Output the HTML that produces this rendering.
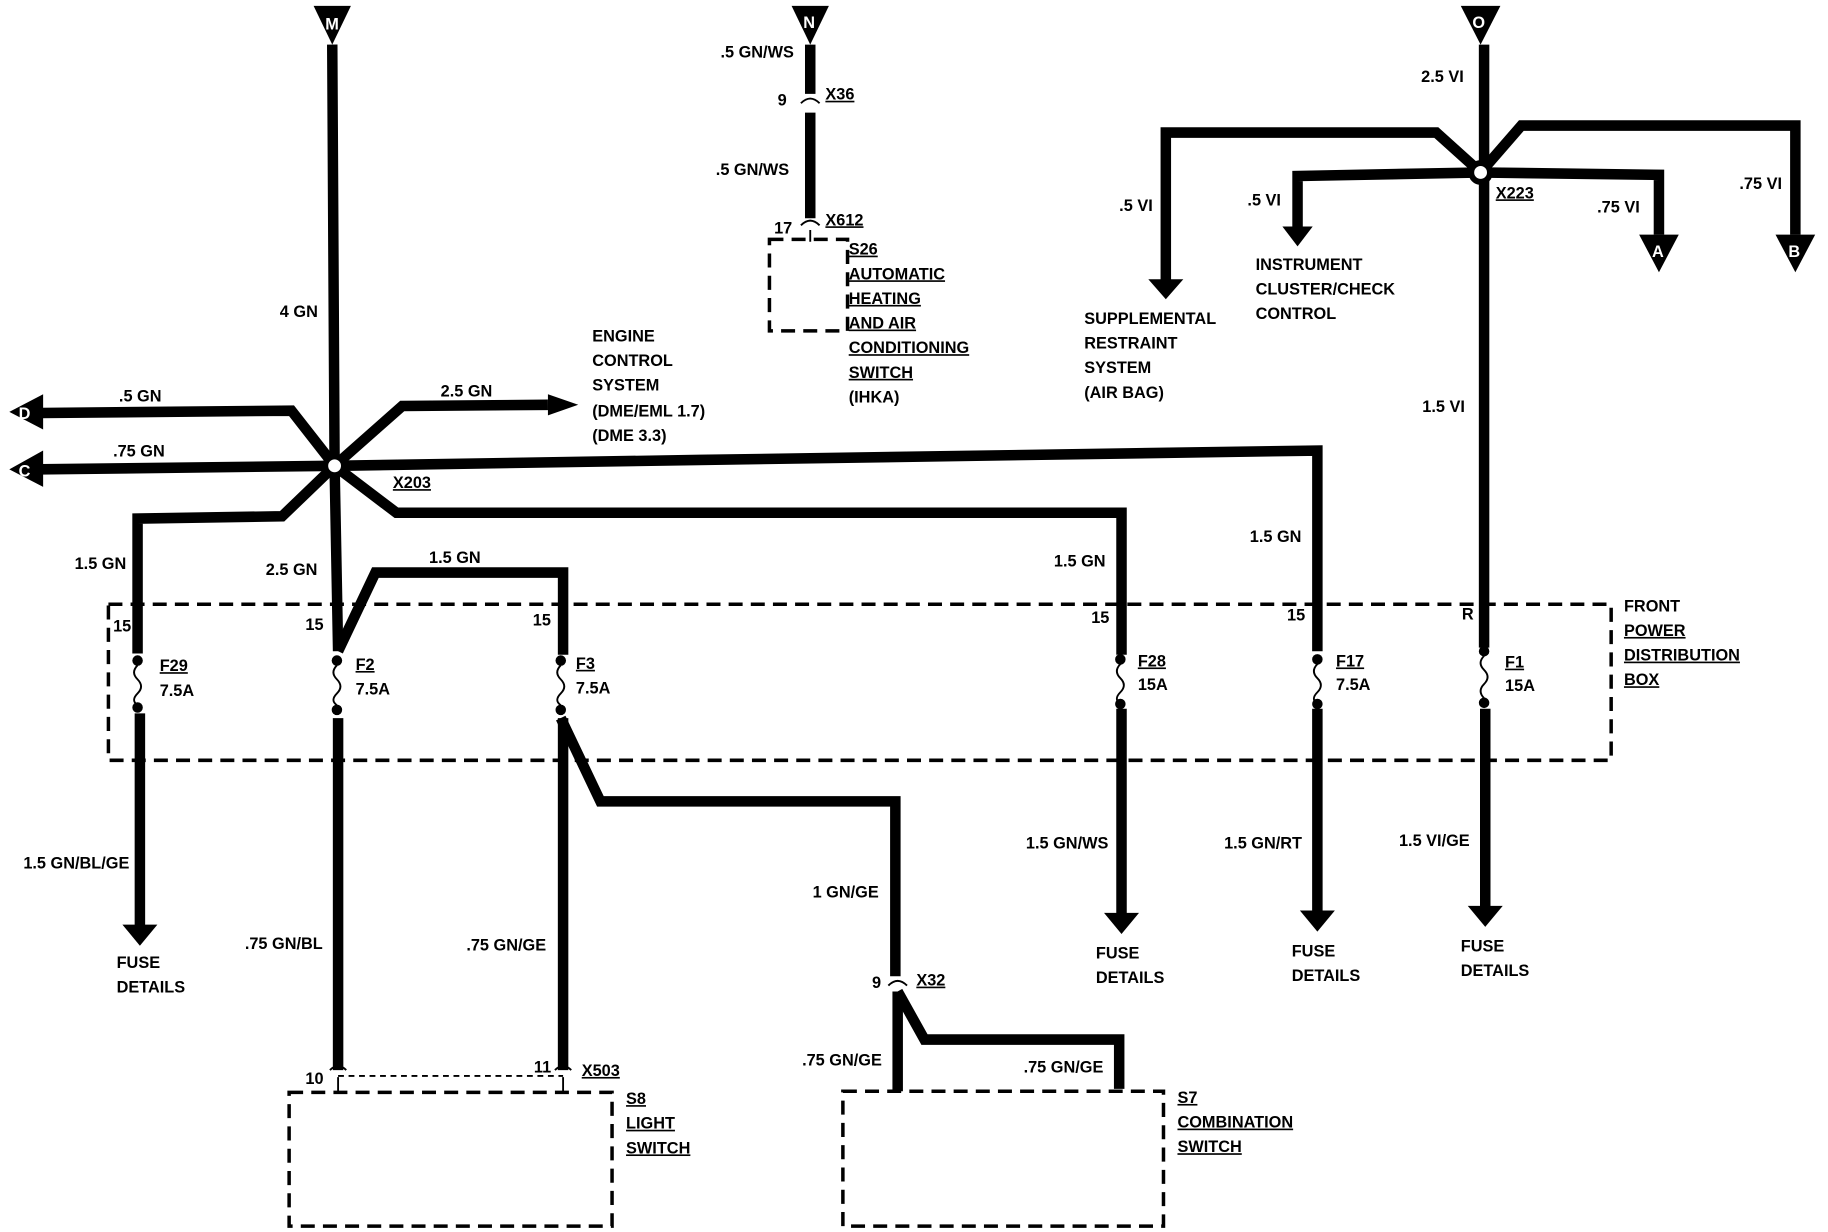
<!DOCTYPE html>
<html><head><meta charset="utf-8"><style>
html,body{margin:0;padding:0;background:#fff;}
svg{display:block;}
text{font-family:"Liberation Sans Narrow","Liberation Sans",sans-serif;font-weight:bold;font-size:14px;fill:#000;}
.w{fill:none;stroke:#000;stroke-width:9;stroke-linejoin:miter;}
.d{fill:none;stroke:#000;stroke-width:3;stroke-dasharray:12,7;}
.s{fill:none;stroke:#000;stroke-width:1.6;}
.u{text-decoration:underline;}
</style></head><body>
<svg width="1828" height="1232" viewBox="0 0 1568 1050" preserveAspectRatio="none" xmlns="http://www.w3.org/2000/svg">
<!-- top triangles -->
<polygon points="269,5 301,5 285,38"/><text x="279" y="25" style="fill:#fff">M</text>
<polygon points="679,5 711,5 695,38"/><text x="689" y="24" style="fill:#fff">N</text>
<polygon points="1253,5 1287,5 1270,38"/><text x="1263" y="24" style="fill:#fff">O</text>

<!-- X203 hub wires -->
<path class="w" d="M285,38 L287,397 L290,555"/>
<path class="w" d="M287,397 L250,350 L35,352"/>
<path class="w" d="M287,397 L35,400"/>
<path class="w" d="M287,397 L345,346 L470,345"/>
<path class="w" d="M287,397 L600,392 L1130,384 L1130,555"/>
<path class="w" d="M287,397 L340,437 L962,437 L962,558"/>
<path class="w" d="M287,397 L242,440 L118,442 L118,557"/>
<path class="w" d="M290,555 L322,488 L483,488 L483,558"/>
<polygon points="37,336 37,366 8,351"/><text x="16" y="357" style="fill:#fff">D</text>
<polygon points="37,384 37,415 8,400"/><text x="16" y="406" style="fill:#fff">C</text>
<polygon points="470,336 470,354 496,345"/>
<circle cx="287" cy="397" r="8" fill="#fff" stroke="#000" stroke-width="5"/>

<!-- power distribution box -->
<rect class="d" x="93" y="515" width="1289" height="133"/>

<!-- fuses -->
<g id="fuses">
<circle cx="118" cy="563" r="4.5"/><path class="s" d="M118,567 q-6,6 0,12 q6,6 0,12 q-6,6 0,10"/><circle cx="118" cy="603" r="4.5"/>
<circle cx="289" cy="563" r="4.5"/><path class="s" d="M289,567 q-6,6 0,12 q6,6 0,12 q-6,6 0,10"/><circle cx="289" cy="605" r="4.5"/>
<circle cx="481" cy="563" r="4.5"/><path class="s" d="M481,567 q-6,6 0,12 q6,6 0,12 q-6,6 0,10"/><circle cx="481" cy="605" r="4.5"/>
<circle cx="961" cy="562" r="4.5"/><path class="s" d="M961,566 q-6,6 0,12 q6,6 0,12 q-6,6 0,10"/><circle cx="961" cy="600" r="4.5"/>
<circle cx="1130" cy="562" r="4.5"/><path class="s" d="M1130,566 q-6,6 0,12 q6,6 0,12 q-6,6 0,10"/><circle cx="1130" cy="600" r="4.5"/>
<circle cx="1273" cy="555" r="4.5"/><path class="s" d="M1273,559 q-6,6 0,12 q6,6 0,12 q-6,6 0,12"/><circle cx="1273" cy="599" r="4.5"/>
</g>

<!-- lower wires -->
<path class="w" d="M120,608 L120,790"/><polygon points="105,788 135,788 120,806"/>
<path class="w" d="M290,612 L290,912"/>
<path class="w" d="M483,612 L483,912"/>
<path class="w" d="M481,612 L515,683 L768,683 L768,832"/>
<path class="w" d="M770,845 L793,886 L960,886 L960,928"/>
<path class="w" d="M770,845 L770,930"/>
<path class="w" d="M962,604 L962,780"/><polygon points="947,778 977,778 962,796"/>
<path class="w" d="M1130,604 L1130,778"/><polygon points="1115,776 1145,776 1130,794"/>
<path class="w" d="M1273,38 L1273,552"/>
<path class="w" d="M1274,604 L1274,774"/><polygon points="1259,772 1289,772 1274,790"/>

<!-- connectors bottom -->
<path class="s" stroke-width="2" d="M283,912 q7,-7 14,0 M476,912 q7,-7 14,0 M762,840 q8,-8 16,0 M687,88 q8,-8 16,0 M687,192 q8,-8 16,0"/>
<path class="s" stroke-dasharray="5,4" d="M290,917 L483,917"/>
<path class="s" d="M290,918 L290,930 M483,918 L483,930 M695,196 L695,206"/>

<!-- S8, S7, S26 boxes -->
<rect class="d" x="248" y="931" width="277" height="114"/>
<rect class="d" x="723" y="930" width="275" height="115"/>
<rect class="d" x="660" y="204" width="67" height="78"/>

<!-- N wire -->
<path class="w" d="M695,38 L695,80"/>
<path class="w" d="M695,96 L695,186"/>

<!-- X223 hub -->
<path class="w" d="M1270,147 L1232,113 L1000,113 L1000,240"/><polygon points="985,238 1015,238 1000,255"/>
<path class="w" d="M1270,147 L1113,150 L1113,195"/><polygon points="1100,193 1126,193 1113,210"/>
<path class="w" d="M1270,147 L1423,149 L1423,200"/><polygon points="1406,200 1440,200 1423,232"/><text x="1417" y="219" style="fill:#fff">A</text>
<path class="w" d="M1270,147 L1305,107 L1540,107 L1540,200"/><polygon points="1523,200 1557,200 1540,232"/><text x="1534" y="219" style="fill:#fff">B</text>
<circle cx="1270" cy="147" r="8" fill="#fff" stroke="#000" stroke-width="5"/>

<!-- labels -->
<text x="618" y="49">.5 GN/WS</text>
<text x="667" y="90">9</text><text x="708" y="85" class="u">X36</text>
<text x="614" y="149">.5 GN/WS</text>
<text x="664" y="199">17</text><text x="708" y="192" class="u">X612</text>
<text x="728" y="217" class="u">S26</text>
<text x="728" y="238" class="u">AUTOMATIC</text>
<text x="728" y="259" class="u">HEATING</text>
<text x="728" y="280" class="u">AND AIR</text>
<text x="728" y="301" class="u">CONDITIONING</text>
<text x="728" y="322" class="u">SWITCH</text>
<text x="728" y="343">(IHKA)</text>

<text x="240" y="270">4 GN</text>
<text x="508" y="291">ENGINE</text>
<text x="508" y="312">CONTROL</text>
<text x="508" y="333">SYSTEM</text>
<text x="508" y="355">(DME/EML 1.7)</text>
<text x="508" y="376">(DME 3.3)</text>
<text x="102" y="342">.5 GN</text>
<text x="97" y="389">.75 GN</text>
<text x="378" y="338">2.5 GN</text>
<text x="337" y="416" class="u">X203</text>
<text x="64" y="485">1.5 GN</text>
<text x="228" y="490">2.5 GN</text>
<text x="368" y="480">1.5 GN</text>
<text x="904" y="483">1.5 GN</text>
<text x="1072" y="462">1.5 GN</text>
<text x="1220" y="351">1.5 VI</text>
<text x="1219" y="70">2.5 VI</text>
<text x="1283" y="169" class="u">X223</text>
<text x="960" y="180">.5 VI</text>
<text x="1070" y="175">.5 VI</text>
<text x="1370" y="181">.75 VI</text>
<text x="1492" y="161">.75 VI</text>
<text x="1077" y="230">INSTRUMENT</text>
<text x="1077" y="251">CLUSTER/CHECK</text>
<text x="1077" y="272">CONTROL</text>
<text x="930" y="276">SUPPLEMENTAL</text>
<text x="930" y="297">RESTRAINT</text>
<text x="930" y="318">SYSTEM</text>
<text x="930" y="339">(AIR BAG)</text>

<text x="97" y="538">15</text><text x="262" y="537">15</text><text x="457" y="533">15</text>
<text x="936" y="531">15</text><text x="1104" y="529">15</text><text x="1254" y="528">R</text>
<text x="137" y="572" class="u">F29</text><text x="137" y="593">7.5A</text>
<text x="305" y="571" class="u">F2</text><text x="305" y="592">7.5A</text>
<text x="494" y="570" class="u">F3</text><text x="494" y="591">7.5A</text>
<text x="976" y="568" class="u">F28</text><text x="976" y="588">15A</text>
<text x="1146" y="568" class="u">F17</text><text x="1146" y="588">7.5A</text>
<text x="1291" y="569" class="u">F1</text><text x="1291" y="589">15A</text>
<text x="1393" y="521">FRONT</text>
<text x="1393" y="542" class="u">POWER</text>
<text x="1393" y="563" class="u">DISTRIBUTION</text>
<text x="1393" y="584" class="u">BOX</text>

<text x="20" y="740">1.5 GN/BL/GE</text>
<text x="100" y="825">FUSE</text><text x="100" y="846">DETAILS</text>
<text x="210" y="809">.75 GN/BL</text>
<text x="400" y="810">.75 GN/GE</text>
<text x="697" y="765">1 GN/GE</text>
<text x="880" y="723">1.5 GN/WS</text>
<text x="940" y="817">FUSE</text><text x="940" y="838">DETAILS</text>
<text x="1050" y="723">1.5 GN/RT</text>
<text x="1108" y="815">FUSE</text><text x="1108" y="836">DETAILS</text>
<text x="1200" y="721">1.5 VI/GE</text>
<text x="1253" y="811">FUSE</text><text x="1253" y="832">DETAILS</text>
<text x="748" y="842">9</text><text x="786" y="840" class="u">X32</text>
<text x="688" y="908">.75 GN/GE</text>
<text x="878" y="914">.75 GN/GE</text>
<text x="262" y="924">10</text><text x="458" y="914">11</text><text x="499" y="917" class="u">X503</text>
<text x="537" y="941" class="u">S8</text>
<text x="537" y="962" class="u">LIGHT</text>
<text x="537" y="983" class="u">SWITCH</text>
<text x="1010" y="940" class="u">S7</text>
<text x="1010" y="961" class="u">COMBINATION</text>
<text x="1010" y="982" class="u">SWITCH</text>
</svg>
</body></html>
